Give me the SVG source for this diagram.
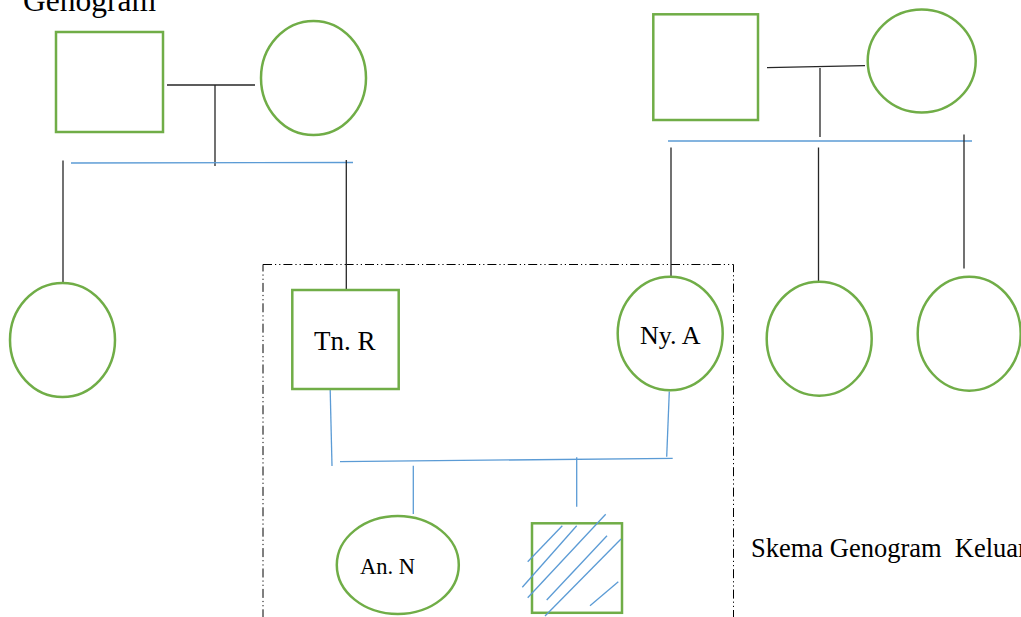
<svg xmlns="http://www.w3.org/2000/svg" width="1021" height="617" viewBox="0 0 1021 617">
<style>
.node{fill:#fff;stroke:#70AD47;stroke-width:2.5}
.blk{stroke:#262626;stroke-width:1.3;fill:none}
.blue{stroke:#5B9BD5;stroke-width:1.3;fill:none}
.lbl{font-family:"Liberation Serif","Times New Roman",serif;fill:#000}
.frame{fill:none;stroke:#000;stroke-width:1;stroke-dasharray:9 3 1.2 3 1.2 3}
</style>
<rect width="1021" height="617" fill="#fff"/>
<text class="lbl" x="23" y="11" font-size="31.5">Genogram</text>
<rect class="frame" x="263" y="264.5" width="470.5" height="400"/>
<g id="connectors">
  <line class="blk" x1="167" y1="85" x2="255" y2="85"/>
  <line class="blk" x1="215" y1="85" x2="215" y2="166"/>
  <line class="blue" x1="71" y1="163" x2="353" y2="162.5"/>
  <line class="blk" x1="63" y1="160.5" x2="63" y2="283"/>
  <line class="blk" x1="346.3" y1="160" x2="346.3" y2="290"/>
  <line class="blk" x1="767" y1="67.7" x2="865" y2="65.7"/>
  <line class="blk" x1="820" y1="68" x2="820" y2="137"/>
  <line class="blue" x1="668" y1="141" x2="972" y2="141"/>
  <line class="blk" x1="671" y1="147.5" x2="671" y2="277"/>
  <line class="blk" x1="818.5" y1="147.5" x2="818.5" y2="282"/>
  <line class="blk" x1="964" y1="134.5" x2="964" y2="268.5"/>
  <line class="blue" x1="330" y1="382" x2="332" y2="466"/>
  <line class="blue" x1="340" y1="461.7" x2="672.7" y2="458.3"/>
  <line class="blue" x1="669.3" y1="391.5" x2="666.7" y2="456.7"/>
  <line class="blue" x1="413.3" y1="465.7" x2="413.3" y2="514"/>
  <line class="blue" x1="576.7" y1="457.3" x2="576.7" y2="506.7"/>
</g>
<g id="gf-left"><rect class="node" x="56" y="32" width="107" height="100"/></g>
<g id="gm-left"><ellipse class="node" cx="313.5" cy="78" rx="52.5" ry="57"/></g>
<g id="aunt-left"><ellipse class="node" cx="62.5" cy="340" rx="52.5" ry="57"/></g>
<g id="gf-right"><rect class="node" x="653.3" y="14.3" width="104.7" height="105.7"/></g>
<g id="gm-right"><ellipse class="node" cx="921.7" cy="61" rx="54" ry="51.5"/></g>
<g id="tn-r"><rect class="node" x="292.3" y="290" width="106.4" height="99"/><text class="lbl" x="314" y="350" font-size="27">Tn. R</text></g>
<g id="ny-a"><ellipse class="node" cx="670.2" cy="333.5" rx="52.5" ry="56.7"/><text class="lbl" x="640" y="344" font-size="26">Ny. A</text></g>
<g id="aunt-r1"><ellipse class="node" cx="819.2" cy="338.7" rx="52.5" ry="57"/></g>
<g id="aunt-r2"><ellipse class="node" cx="969.2" cy="333.7" rx="51.5" ry="57"/></g>
<g id="an-n"><ellipse class="node" cx="397.8" cy="565" rx="61" ry="49"/><text class="lbl" x="360" y="574" font-size="22.5">An. N</text></g>
<g id="son">
  <rect class="node" x="532" y="523.3" width="90" height="89.5"/>
  <g class="blue" stroke-width="1.2">
    <line x1="527.7" y1="561.7" x2="562.3" y2="525.7"/>
    <line x1="522.3" y1="587.3" x2="576.7" y2="525.7"/>
    <line x1="527.7" y1="597.7" x2="605.7" y2="514.3"/>
    <line x1="546.7" y1="600" x2="607" y2="535.7"/>
    <line x1="545" y1="616" x2="621" y2="539"/>
    <line x1="590" y1="605.7" x2="618.3" y2="581.7"/>
  </g>
</g>
<text class="lbl" x="751" y="557" font-size="26.5" xml:space="preserve" style="white-space:pre">Skema Genogram  Keluar</text>
</svg>
